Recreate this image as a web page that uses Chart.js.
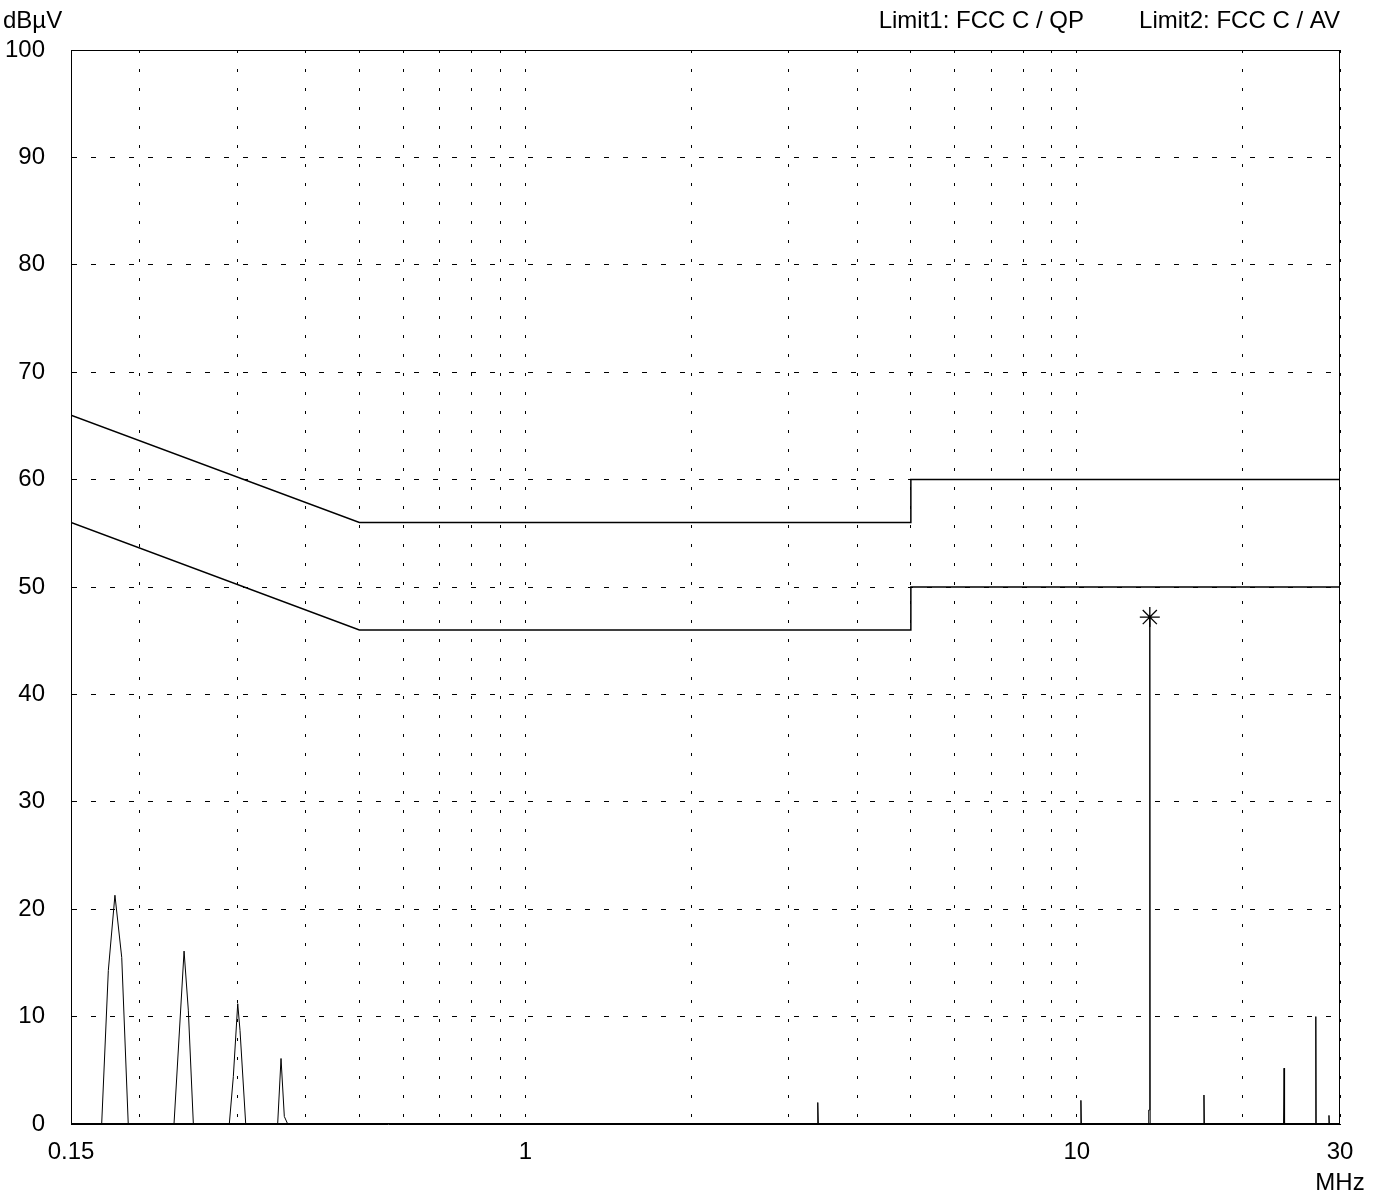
<!DOCTYPE html>
<html>
<head>
<meta charset="utf-8">
<script src="https://cdn.jsdelivr.net/npm/chart.js@4.4.1/dist/chart.umd.min.js"></script>
<style>
    body { margin: 0; background: #ffffff; }
    #contenedor { width: 1384px; height: 1194px; }
</style>
</head>
<body>
<div id="contenedor">
    <canvas id="myChart_emi" width="1384" height="1194"></canvas>
</div>
<script>
// Datos (frecuencia en MHz, nivel en dBuV)
const trazaFrecuencia = [0.15, 0.1705, 0.1753, 0.1802, 0.1854, 0.1905,
    0.2306, 0.2405, 0.2448, 0.2500,
    0.2905, 0.2954, 0.3009, 0.3038, 0.3111,
    0.3555, 0.3605, 0.3655, 0.3707,
    3.382, 3.39, 3.398,
    10.15, 10.17, 10.19,
    13.49, 13.50, 13.53, 13.56, 13.58,
    16.97, 17.0, 17.03,
    23.70, 23.75, 23.80,
    27.08, 27.12, 27.16,
    28.60, 28.65, 28.70, 30];
const trazaNivel = [0, 0, 14.3, 21.3, 15.5, 0,
    0, 16.1, 10.6, 0,
    0, 4.4, 11.2, 8.7, 0,
    0, 6.1, 0.7, 0,
    0, 2.0, 0,
    0, 2.2, 0,
    0, 1.3, 1.3, 47.2, 0,
    0, 2.7, 0,
    0, 5.2, 0,
    0, 10.0, 0,
    0, 0.8, 0, 0];

// Limite 1: FCC C / QP
const limiteQPFrecuencia = [0.15, 0.5, 5, 5, 30];
const limiteQPNivel = [66, 56, 56, 60, 60];
// Limite 2: FCC C / AV
const limiteAVFrecuencia = [0.15, 0.5, 5, 5, 30];
const limiteAVNivel = [56, 46, 46, 50, 50];

// Marcador (asterisco)
const marcadorFrecuencia = [13.56];
const marcadorNivel = [47.2];

// Ejes
const ticksX = [0.15, 0.2, 0.3, 0.4, 0.5, 0.6, 0.7, 0.8, 0.9, 1, 2, 3, 4, 5, 6, 7, 8, 9, 10, 20, 30];
const etiquetasX = { 0.15: '0.15', 1: '1', 10: '10', 30: ['30', 'MHz'] };
const ticksY = [0, 10, 20, 30, 40, 50, 60, 70, 80, 90, 100];

const fuente = '"Liberation Sans", Arial, sans-serif';

function aPuntos(xs, ys) {
    return xs.map((x, i) => ({ x: x, y: ys[i] }));
}

// Textos de cabecera y marco del grafico
const pluginTextos = {
    id: 'textos',
    afterDraw(chart) {
        const ctx = chart.ctx;
        const area = chart.chartArea;
        ctx.save();
        ctx.strokeStyle = '#000000';
        ctx.lineWidth = 1;
        ctx.strokeRect(Math.round(area.left) + 0.5, Math.round(area.top) + 0.5,
            Math.round(area.right - area.left) - 1, Math.round(area.bottom - area.top) - 1);

        ctx.fillStyle = '#000000';
        ctx.font = '24px ' + fuente;
        ctx.textBaseline = 'alphabetic';
        ctx.textAlign = 'left';
        ctx.fillText('dBµV', 3, 28);
        ctx.textAlign = 'right';
        ctx.fillText('Limit1: FCC C / QP', 1084, 28);
        ctx.fillText('Limit2: FCC C / AV', 1340, 28);
        ctx.restore();
    }
};

function inicializarGrafica() {
    const ctx = document.getElementById('myChart_emi').getContext('2d');

    new Chart(ctx, {
        type: 'line',
        data: {
            datasets: [
                {
                    label: 'Limit1',
                    data: aPuntos(limiteQPFrecuencia, limiteQPNivel),
                    borderColor: '#000000',
                    borderWidth: 1.5,
                    pointRadius: 0,
                    fill: false
                },
                {
                    label: 'Limit2',
                    data: aPuntos(limiteAVFrecuencia, limiteAVNivel),
                    borderColor: '#000000',
                    borderWidth: 1.5,
                    pointRadius: 0,
                    fill: false
                },
                {
                    label: 'Traza',
                    data: aPuntos(trazaFrecuencia, trazaNivel),
                    borderColor: '#000000',
                    borderWidth: 1,
                    pointRadius: 0,
                    fill: false
                },
                {
                    label: 'Marcador',
                    data: aPuntos(marcadorFrecuencia, marcadorNivel),
                    showLine: false,
                    pointStyle: 'star',
                    pointRadius: 10,
                    borderColor: '#000000',
                    borderWidth: 1.3,
                    backgroundColor: '#000000'
                }
            ]
        },
        options: {
            responsive: false,
            animation: false,
            layout: {
                padding: { top: 50, right: 44, left: 0, bottom: 0 }
            },
            plugins: {
                legend: { display: false },
                tooltip: { enabled: false }
            },
            elements: {
                line: { tension: 0 }
            },
            scales: {
                x: {
                    type: 'logarithmic',
                    min: 0.15,
                    max: 30,
                    afterBuildTicks: scale => {
                        scale.ticks = ticksX.map(v => ({ value: v }));
                    },
                    afterFit: scale => { scale.height = 70; },
                    grid: {
                        color: '#000000',
                        lineWidth: 1,
                        drawTicks: false
                    },
                    border: { color: '#000000', width: 1, dash: [3, 16] },
                    ticks: {
                        autoSkip: false,
                        maxRotation: 0,
                        padding: 13,
                        color: '#000000',
                        font: { family: fuente, size: 24, lineHeight: 1.3 },
                        callback: value => etiquetasX[value] !== undefined ? etiquetasX[value] : ''
                    }
                },
                y: {
                    min: 0,
                    max: 100,
                    afterBuildTicks: scale => {
                        scale.ticks = ticksY.map(v => ({ value: v }));
                    },
                    afterFit: scale => { scale.width = 71; },
                    grid: {
                        color: '#000000',
                        lineWidth: 1,
                        drawTicks: false
                    },
                    border: { color: '#000000', width: 1, dash: [5, 14] },
                    ticks: {
                        padding: 26,
                        color: '#000000',
                        font: { family: fuente, size: 24 }
                    }
                }
            }
        },
        plugins: [pluginTextos]
    });
}

inicializarGrafica();
</script>
</body>
</html>
